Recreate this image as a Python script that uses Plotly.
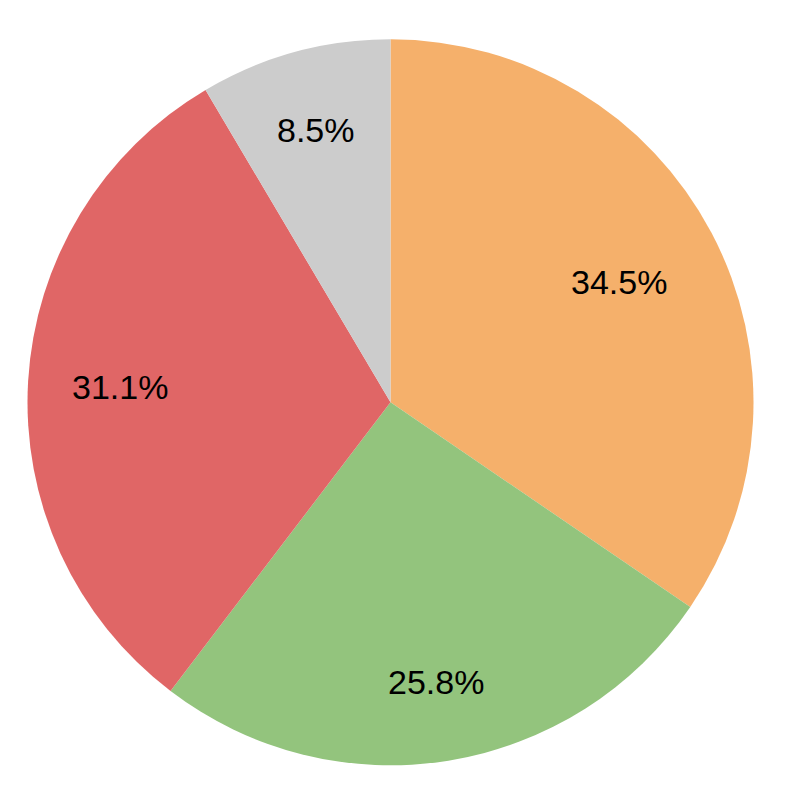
import math
import plotly.graph_objects as go

categories = ["A", "B", "C", "D"]
values = [34.5, 25.8, 31.1, 8.5]
colors = ["#F5B06B", "#93C47D", "#E06666", "#CCCCCC"]
label_radius = [0.712, 0.781, 0.746, 0.777]  # label distance from centre, as fraction of radius

W = H = 793
OFF = 8  # page body margin
cx, cy, r = 390.5 - OFF, 402.3 - OFF, 363.0

fig = go.Figure(go.Pie(
    labels=categories,
    values=values,
    sort=False,
    direction="clockwise",
    rotation=0,
    marker=dict(colors=colors, line=dict(width=0)),
    textinfo="none",
    domain=dict(x=[(cx - r) / W, (cx + r) / W], y=[(H - cy - r) / H, (H - cy + r) / H]),
    hoverinfo="label+percent",
))

total = sum(values)
cum = 0.0
annotations = []
for v, f in zip(values, label_radius):
    mid = (cum + v / 2) / total * 2 * math.pi
    cum += v
    px = cx + f * r * math.sin(mid)
    py = cy - f * r * math.cos(mid)
    annotations.append(dict(
        x=px / W, y=1 - py / H, xref="paper", yref="paper",
        text=f"{v / total * 100:.1f}%", showarrow=False,
        xanchor="center", yanchor="middle",
        font=dict(family="Liberation Sans, Arial, sans-serif", size=34, color="black"),
    ))

fig.update_layout(
    width=W, height=H,
    margin=dict(l=0, r=0, t=0, b=0),
    showlegend=False,
    paper_bgcolor="white",
    annotations=annotations,
)
fig.write_html("out.html")
